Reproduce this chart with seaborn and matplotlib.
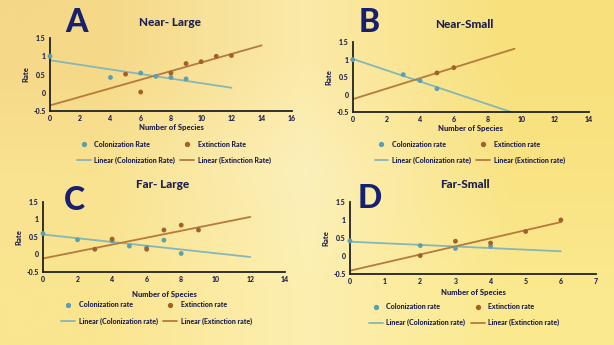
import numpy as np
import pandas as pd
import matplotlib
matplotlib.use("Agg")
import matplotlib.pyplot as plt
import seaborn as sns
from matplotlib.colors import to_rgb
from matplotlib.lines import Line2D

sns.set_style("white")
plt.rcParams['font.family'] = ['Lato', 'DejaVu Sans']

# ---------------- data ----------------
a_col_x = [0, 4, 6, 7, 8, 9]
a_col_y = [1.0, 0.42, 0.54, 0.45, 0.42, 0.38]
a_ext_x = [5, 6, 8, 9, 10, 11, 12]
a_ext_y = [0.51, 0.02, 0.54, 0.80, 0.85, 1.0, 1.02]

b_col_x = [0, 3, 4, 5]
b_col_y = [1.0, 0.57, 0.40, 0.17]
b_ext_x = [5, 6]
b_ext_y = [0.62, 0.77]

c_col_x = [0, 2, 4, 5, 6, 7, 8]
c_col_y = [0.60, 0.42, 0.39, 0.24, 0.20, 0.41, 0.03]
c_ext_x = [3, 4, 6, 7, 8, 9]
c_ext_y = [0.15, 0.44, 0.15, 0.70, 0.84, 0.70]

d_col_x = [0, 2, 3, 4]
d_col_y = [0.42, 0.29, 0.21, 0.27]
d_ext_x = [2, 3, 4, 5, 6]
d_ext_y = [0.01, 0.41, 0.36, 0.68, 1.0]

titles = ["Near- Large", "Near-Small", "Far- Large", "Far-Small"]
letters = ["A", "B", "C", "D"]
y_ticks = [-0.5, 0, 0.5, 1, 1.5]
y_ticklabels = ["-0.5", "0", "0.5", "1", "1.5"]
legend_labels = [
    ["Colonization Rate", "Linear (Colonization Rate)", "Extinction Rate", "Linear (Extinction Rate)"],
    ["Colonization rate", "Linear (Colonization rate)", "Extinction rate", "Linear (Extinction rate)"],
    ["Colonization rate", "Linear (Colonization rate)", "Extinction rate", "Linear (Extinction rate)"],
    ["Colonization rate", "Linear (Colonization rate)", "Extinction rate", "Linear (Extinction rate)"],
]

# ---------------- style ----------------
NAVY = "#1c1f4d"
LETTER = "#17206e"
TEAL_PT = "#5c9fae"
TEAL_LN = "#86b6b6"
BROWN_PT = "#a3602b"
BROWN_LN = "#b57a3c"
W = 900

fig = plt.figure(figsize=(6.14, 3.45), dpi=100)

# background gradient
grid = [["#f5d888", "#fbeaa8", "#f8e07c"],
        ["#f9e290", "#fcf0bb", "#f9e383"],
        ["#fae590", "#fcefb0", "#fbe98e"]]
bg = np.array([[to_rgb(c) for c in row] for row in grid])
bax = fig.add_axes([0, 0, 1, 1], zorder=-10)
bax.imshow(bg, aspect="auto", interpolation="bilinear", extent=[0, 1, 0, 1])
bax.set_axis_off()

panels = [
    dict(pos=[0.0814, 0.678, 0.394, 0.212], xmax=16, xstep=2,
         col=(a_col_x, a_col_y), ext=(a_ext_x, a_ext_y), col_end=12, ext_end=14,
         title_xy=(0.277, 0.936), letter_xy=(0.124, 0.934), leg_xy=(0.283, 0.559), xlab_pad=1),
    dict(pos=[0.5744, 0.675, 0.3844, 0.203], xmax=14, xstep=2,
         col=(b_col_x, b_col_y), ext=(b_ext_x, b_ext_y), col_end=9.6, ext_end=9.6,
         title_xy=(0.757, 0.930), letter_xy=(0.601, 0.936), leg_xy=(0.765, 0.558), xlab_pad=1),
    dict(pos=[0.070, 0.2116, 0.394, 0.2029], xmax=14, xstep=2,
         col=(c_col_x, c_col_y), ext=(c_ext_x, c_ext_y), col_end=12, ext_end=12,
         title_xy=(0.265, 0.464), letter_xy=(0.122, 0.420), leg_xy=(0.255, 0.093), xlab_pad=6),
    dict(pos=[0.570, 0.2058, 0.4007, 0.2087], xmax=7, xstep=1,
         col=(d_col_x, d_col_y), ext=(d_ext_x, d_ext_y), col_end=6, ext_end=6,
         title_xy=(0.757, 0.464), letter_xy=(0.603, 0.424), leg_xy=(0.756, 0.088), xlab_pad=2.5),
]

for i, p in enumerate(panels):
    ax = fig.add_axes(p["pos"])
    ax.set_facecolor("none")
    cx, cy = p["col"]
    ex, ey = p["ext"]
    col_df = pd.DataFrame({"x": cx, "y": cy})
    ext_df = pd.DataFrame({"x": ex, "y": ey})
    # linear fits from the data
    cs, ci = np.polyfit(cx, cy, 1)
    es, ei = np.polyfit(ex, ey, 1)
    col_fit = pd.DataFrame({"x": [0, p["col_end"]]})
    col_fit["y"] = ci + cs * col_fit["x"]
    ext_fit = pd.DataFrame({"x": [0, p["ext_end"]]})
    ext_fit["y"] = ei + es * ext_fit["x"]

    sns.lineplot(data=col_fit, x="x", y="y", ax=ax, color=TEAL_LN, lw=1.3, zorder=2)
    sns.lineplot(data=ext_fit, x="x", y="y", ax=ax, color=BROWN_LN, lw=1.3, zorder=2)
    sns.scatterplot(data=col_df, x="x", y="y", ax=ax, color=TEAL_PT, s=12,
                    edgecolor="none", zorder=3, clip_on=False)
    sns.scatterplot(data=ext_df, x="x", y="y", ax=ax, color=BROWN_PT, s=12,
                    edgecolor="none", zorder=3, clip_on=False)

    ax.set_xlim(0, p["xmax"])
    ax.set_ylim(-0.5, 1.5)
    xt = np.arange(0, p["xmax"] + 0.1, p["xstep"])
    ax.set_xticks(xt)
    ax.set_xticklabels([str(int(v)) for v in xt], fontweight=W)
    ax.set_yticks(y_ticks)
    ax.set_yticklabels(y_ticklabels, fontweight=W)
    ax.tick_params(length=0, labelsize=5, pad=3, colors=NAVY)
    for s in ["top", "right"]:
        ax.spines[s].set_visible(False)
    for s in ["left", "bottom"]:
        ax.spines[s].set_color("#222222")
        ax.spines[s].set_linewidth(1.3)
    ax.set_xlabel("Number of Species", fontsize=5.5, fontweight=W, color=NAVY,
                  labelpad=p["xlab_pad"])
    ax.set_ylabel("Rate", fontsize=5.5, fontweight=W, color=NAVY, labelpad=3)

    fig.text(*p["title_xy"], titles[i], ha="center", va="center", fontsize=8.5,
             fontweight=W, color=NAVY)
    fig.text(*p["letter_xy"], letters[i], ha="center", va="center", fontsize=23,
             fontweight=W, color=LETTER)

    handles = [
        Line2D([], [], ls="none", marker="o", ms=2.8, color=TEAL_PT),
        Line2D([], [], color=TEAL_LN, lw=1.3),
        Line2D([], [], ls="none", marker="o", ms=2.8, color=BROWN_PT),
        Line2D([], [], color=BROWN_LN, lw=1.3),
    ]
    fig.legend(handles, legend_labels[i], ncol=2, loc="center",
               bbox_to_anchor=p["leg_xy"], frameon=False,
               prop={"size": 5, "weight": W}, handlelength=2.0,
               handletextpad=0.5, columnspacing=0.8, labelspacing=1.3,
               labelcolor=NAVY)

fig.savefig("out.png", dpi=100)
